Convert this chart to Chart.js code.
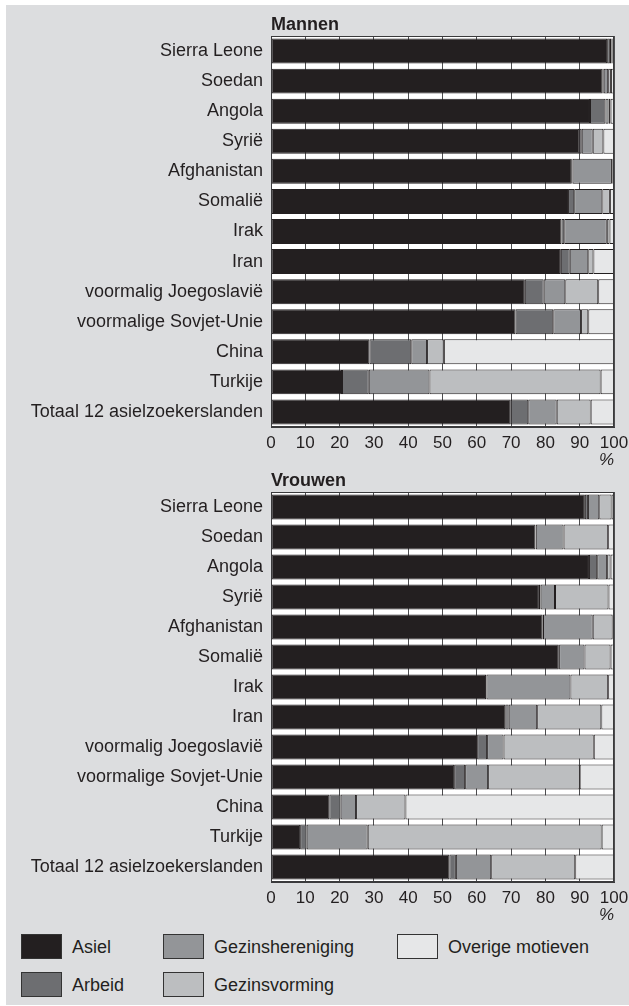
<!DOCTYPE html>
<html lang="nl">
<head>
<meta charset="UTF-8">
<script src="https://cdn.jsdelivr.net/npm/chart.js"></script>
<title>Mannen en vrouwen per motief</title>
<style>
    body { margin: 0; background: #ffffff; font-family: "Liberation Sans", Arial, sans-serif; }
    .page { position: relative; width: 629px; height: 1006px; overflow: hidden; }
    .bg { position: absolute; left: 6px; top: 5px; right: 0; bottom: 1px; background: #dcdddf; }
    canvas { position: absolute; left: 0; }
    #mannenChart { top: 0; }
    #vrouwenChart { top: 470px; }
    .leg-box { position: absolute; width: 39px; height: 23px; border: 1px solid #333; }
    .leg-text { position: absolute; font-size: 18px; color: #231f20; line-height: 24px; }
</style>
</head>
<body>
<div class="page">
    <div class="bg"></div>
    <canvas id="mannenChart" width="629" height="470"></canvas>
    <canvas id="vrouwenChart" width="629" height="455"></canvas>

    <div class="leg-box" style="left:21px;top:934px;background:#231f20"></div>
    <div class="leg-text" style="left:72px;top:935px">Asiel</div>
    <div class="leg-box" style="left:21px;top:972px;background:#6d6e71"></div>
    <div class="leg-text" style="left:72px;top:973px">Arbeid</div>
    <div class="leg-box" style="left:163px;top:934px;background:#939598"></div>
    <div class="leg-text" style="left:214px;top:935px">Gezinshereniging</div>
    <div class="leg-box" style="left:163px;top:972px;background:#bcbec0"></div>
    <div class="leg-text" style="left:214px;top:973px">Gezinsvorming</div>
    <div class="leg-box" style="left:397px;top:934px;background:#e6e7e8"></div>
    <div class="leg-text" style="left:448px;top:935px">Overige motieven</div>
</div>
<script>
    const landen = ['Sierra Leone', 'Soedan', 'Angola', 'Syrië', 'Afghanistan', 'Somalië', 'Irak', 'Iran',
        'voormalig Joegoslavië', 'voormalige Sovjet-Unie', 'China', 'Turkije', 'Totaal 12 asielzoekerslanden'];
    const motieven = ['Asiel', 'Arbeid', 'Gezinshereniging', 'Gezinsvorming', 'Overige motieven'];
    const kleuren = ['#231f20', '#6d6e71', '#939598', '#bcbec0', '#e6e7e8'];
    const xTicks = [0, 10, 20, 30, 40, 50, 60, 70, 80, 90, 100];

    // Mannen (%)
    const mannenAsiel    = [98.0, 96.7, 93.0, 89.9, 87.7, 86.6, 84.7, 84.5, 74.0, 71.3, 28.7, 20.7, 69.9];
    const mannenArbeid   = [0.8, 0.3, 4.5, 0.7, 0.2, 1.8, 0.8, 2.6, 5.5, 11.0, 12.2, 7.8, 5.1];
    const mannenHereniging = [0.5, 1.3, 0.9, 3.2, 11.5, 8.2, 12.4, 5.4, 6.3, 8.1, 4.6, 17.7, 8.3];
    const mannenVorming  = [0.3, 0.8, 0.6, 3.1, 0.2, 2.2, 0.8, 1.5, 9.6, 2.1, 4.9, 49.9, 9.9];
    const mannenOverig   = [0.4, 0.9, 1.0, 3.1, 0.4, 1.2, 1.3, 6.0, 4.6, 7.5, 49.6, 3.9, 6.8];

    // Vrouwen (%)
    const vrouwenAsiel   = [91.5, 77.1, 92.7, 78.1, 79.2, 83.9, 62.7, 68.3, 60.1, 53.4, 17.0, 8.5, 52.0];
    const vrouwenArbeid  = [0.9, 0.1, 2.4, 0.5, 0.1, 0.1, 0.1, 1.0, 2.9, 3.2, 3.3, 1.9, 1.9];
    const vrouwenHereniging = [3.3, 8.1, 2.9, 4.2, 14.5, 7.4, 24.5, 8.3, 4.8, 6.7, 4.5, 17.8, 10.3];
    const vrouwenVorming = [3.6, 13.0, 1.0, 15.6, 5.8, 7.6, 11.0, 18.7, 26.3, 26.7, 14.4, 68.2, 24.5];
    const vrouwenOverig  = [0.7, 1.7, 1.0, 1.6, 0.4, 1.0, 1.7, 3.7, 5.9, 10.0, 60.8, 3.6, 11.3];

    const fontFam = '"Liberation Sans", Arial, sans-serif';

    // witte plotachtergrond, kader en titel
    const framePlugin = {
        id: 'frame',
        beforeDraw(chart) {
            const a = chart.chartArea, ctx = chart.ctx;
            ctx.save();
            ctx.fillStyle = '#ffffff';
            ctx.fillRect(a.left, a.top, a.right - a.left, a.bottom - a.top);
            ctx.restore();
        },
        afterDraw(chart, args, opts) {
            const a = chart.chartArea, ctx = chart.ctx;
            ctx.save();
            ctx.strokeStyle = '#3a3a3c';
            ctx.lineWidth = 1;
            ctx.strokeRect(a.left + 0.5, a.top + 0.5, a.right - a.left - 1, a.bottom - a.top - 1);
            ctx.fillStyle = '#231f20';
            ctx.font = 'bold 18px ' + fontFam;
            ctx.textAlign = 'left';
            ctx.textBaseline = 'alphabetic';
            ctx.fillText(opts.text, a.left, a.top - 6);
            ctx.restore();
        }
    };

    function maakGrafiek(id, titel, reeksen, padTop) {
        const ctx = document.getElementById(id).getContext('2d');
        return new Chart(ctx, {
            type: 'bar',
            data: {
                labels: landen,
                datasets: motieven.map(function (m, i) {
                    return {
                        label: m,
                        data: reeksen[i],
                        backgroundColor: kleuren[i],
                        borderColor: '#231f20',
                        borderWidth: 1,
                        borderSkipped: false,
                        barPercentage: 0.83,
                        categoryPercentage: 1
                    };
                })
            },
            options: {
                indexAxis: 'y',
                responsive: false,
                animation: false,
                devicePixelRatio: 1,
                layout: { padding: { top: padTop, right: 15, bottom: 0, left: 0 } },
                plugins: {
                    legend: { display: false },
                    tooltip: { enabled: false },
                    frame: { text: titel }
                },
                scales: {
                    x: {
                        stacked: true,
                        min: 0,
                        max: 100,
                        afterBuildTicks: function (scale) {
                            scale.ticks = xTicks.map(function (v) { return { value: v }; });
                        },
                        afterFit: function (scale) {
                            scale.height = 43;
                            scale.paddingLeft = 0;
                            scale.paddingRight = 0;
                        },
                        grid: { color: '#4d4d4f', lineWidth: 1, drawTicks: false },
                        border: { display: true, color: '#3a3a3c' },
                        ticks: { color: '#231f20', font: { size: 17, family: fontFam }, padding: 6, maxRotation: 0 },
                        title: { display: true, text: '%', align: 'end', color: '#231f20',
                            font: { size: 17, family: fontFam, style: 'italic' }, padding: { top: 0, bottom: 0 } }
                    },
                    y: {
                        stacked: true,
                        afterFit: function (scale) {
                            scale.width = 271;
                            scale.paddingTop = 0;
                            scale.paddingBottom = 0;
                        },
                        grid: { display: false, drawTicks: false },
                        border: { display: true, color: '#3a3a3c' },
                        ticks: { color: '#231f20', font: { size: 18, family: fontFam }, padding: 8, autoSkip: false }
                    }
                }
            },
            plugins: [framePlugin]
        });
    }

    maakGrafiek('mannenChart', 'Mannen',
        [mannenAsiel, mannenArbeid, mannenHereniging, mannenVorming, mannenOverig], 36);
    maakGrafiek('vrouwenChart', 'Vrouwen',
        [vrouwenAsiel, vrouwenArbeid, vrouwenHereniging, vrouwenVorming, vrouwenOverig], 22);
</script>
</body>
</html>
